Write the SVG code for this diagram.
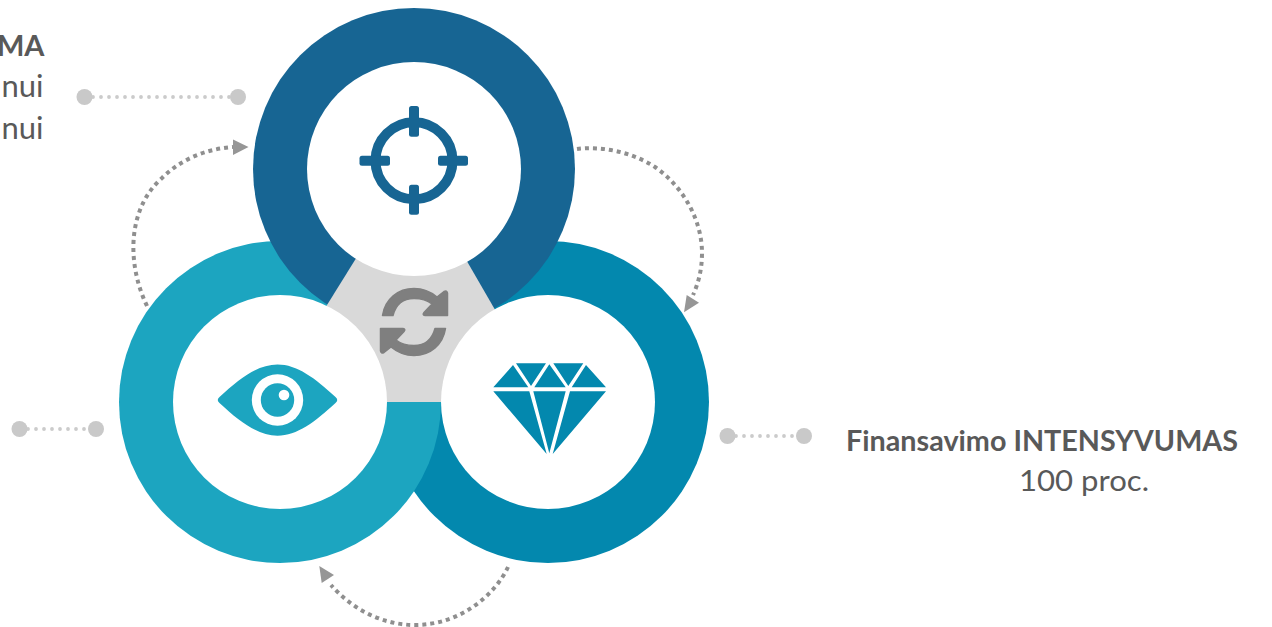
<svg xmlns="http://www.w3.org/2000/svg" width="1272" height="627" viewBox="0 0 1272 627">
<style>
text{font-family:"Lato","Open Sans","Liberation Sans",sans-serif;font-size:29px;fill:#595959}
.b{font-weight:700}
.n{font-size:31px}
.hole{fill:#fff}
.flow{fill:none;stroke:#8f8f8f;stroke-width:4;stroke-dasharray:4 4}
.head{fill:#969696}
.lead{stroke:#cbcbcb;stroke-width:3.8;stroke-linecap:round;stroke-dasharray:0 8;fill:none}
.dot{fill:#c9c9c9}
.dk{fill:#176593}.lt{fill:#1ca5c0}.md{fill:#0388ae}
</style>
<rect width="1272" height="627" fill="#fff"/>
<g id="rings">
<circle class="md" cx="548" cy="402" r="161"/>
<circle class="lt" cx="280" cy="402" r="161"/>
<circle class="dk" cx="414" cy="169" r="161"/>
</g>
<g id="hub">
<path fill="#d9d9d9" d="M369,237.5L455,240.5L507,330.5L441,402H387L313,327.5Z"/>
</g>
<g id="node-left">
<circle class="hole" cx="280" cy="402" r="107"/>
<path class="lt" d="M219.500,397C240,378 258,364.500 277.500,364.500C297,364.500 315,378 335.500,397Q339,400 335.500,403C315,422 297,435.700 277.500,435.700C258,435.700 240,422 219.500,403Q216,400 219.500,397Z"/>
<circle class="hole" cx="277.500" cy="400" r="25.700"/>
<circle class="lt" cx="277.500" cy="400" r="16.700"/>
<circle class="hole" cx="284" cy="395" r="5.300"/>
</g>
<g id="node-right">
<circle class="hole" cx="548" cy="402" r="107"/>
<path class="md" d="M513,365L493.300,387.300H528.300ZM516,363.300H546L531,386ZM549.300,364.300L565.700,387.300H534.300ZM553.300,363.300H583.300L568.300,386ZM586,365L606,387.300H571.700ZM493.300,391.300H529.300L546.700,454ZM533.300,391.300H565.700L549.300,453.300ZM570,391.300H606L552.700,454Z"/>
</g>
<g id="node-top">
<circle class="hole" cx="414" cy="169" r="107"/>
<circle cx="414" cy="160.700" r="38.500" stroke-width="10" fill="none" stroke="#176593"/>
<g class="dk">
<rect x="409" y="106" width="10" height="30.700" rx="2.500"/>
<rect x="409" y="184.700" width="10" height="30" rx="2.500"/>
<rect x="359.500" y="155.700" width="30.500" height="10" rx="2.500"/>
<rect x="438" y="155.700" width="30" height="10" rx="2.500"/>
</g>
</g>
<g id="node-center">
<path id="cycle" fill="#7f7f7f" stroke="#7f7f7f" stroke-width="1.500" stroke-linejoin="round" d="M382.500,315.500C385,299 398,288.500 414,288.500C424,288.500 431,292 437,297L444,291.500Q447,290 447.500,293V315.500H425Q422,315 424,312.500L432,304C427,300 421,298.500 414,298.500C404,298.500 396,304 393,315.500Z"/>
<use href="#cycle" transform="rotate(180 414 322)"/>
</g>
<g id="connectors">
<path class="flow" d="M147,306C126,262 128,208 162,178C180,160 205,149 233,147"/>
<path class="head" d="M233,139.500L248.500,147L233,155Z"/>
<path class="flow" d="M577,149C600,146 630,151 655,167C685,188 702,222 702,253C702,268 699,282 693,295"/>
<path class="head" d="M686.700,295L699,302.700L684,312.300Z"/>
<path class="flow" d="M508,567C495,595 460,625 415,625C380,625 350,607 331,585"/>
<path class="head" d="M319.300,566L334,575L321.700,583Z"/>
<path class="lead" d="M93,97H230"/>
<circle class="dot" cx="84.500" cy="97" r="8"/><circle class="dot" cx="238" cy="97" r="8"/>
<path class="lead" d="M28,429H88"/>
<circle class="dot" cx="19.500" cy="429" r="8"/><circle class="dot" cx="96" cy="429" r="8"/>
<path class="lead" d="M736,436H796"/>
<circle class="dot" cx="727.500" cy="436" r="8"/><circle class="dot" cx="804" cy="436" r="8"/>
</g>
<g id="label-top">
<text class="b" x="44.500" y="56" text-anchor="end">MA</text>
<text class="n" x="43.500" y="97" text-anchor="end">nui</text>
<text class="n" x="43.500" y="139" text-anchor="end">nui</text>
</g>
<g id="label-right">
<text class="b" x="846" y="450.500" textLength="392" lengthAdjust="spacingAndGlyphs">Finansavimo INTENSYVUMAS</text>
<text x="1019" y="491" textLength="130" lengthAdjust="spacingAndGlyphs">100 proc.</text>
</g>
</svg>
